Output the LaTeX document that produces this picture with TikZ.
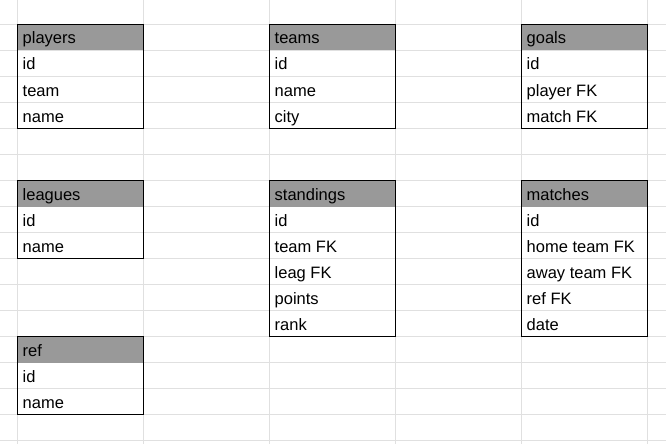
\documentclass[tikz,border=0pt]{standalone}
\usepackage{fontspec}
\setmainfont{Liberation Sans}
\begin{document}
\begin{tikzpicture}[x=1pt,y=-1pt,
  gridline/.style={draw=black!12,line width=1pt},
  tablebox/.style={draw=black,line width=1.2pt},
  headfill/.style={fill=black!40},
  celltext/.style={anchor=base west,inner sep=0pt,font=\fontsize{16.5}{18}\selectfont,text=black}]
\useasboundingbox (0,0) rectangle (666,444);
\fill[white] (0,0) rectangle (666,444);
% grid
\foreach \xx in {17.5,143.5,269.5,395.5,521.5,647.5} \draw[gridline] (\xx,0) -- (\xx,444);
\foreach \k in {0,...,16} \draw[gridline] (0,24.5+26*\k) -- (666,24.5+26*\k);
% tables
\foreach \name/\cx/\ry/\n/\rows in {
  players/17.5/24.5/4/{players,id,team,name},
  teams/269.5/24.5/4/{teams,id,name,city},
  goals/521.5/24.5/4/{goals,id,player FK,match FK},
  leagues/17.5/180.5/3/{leagues,id,name},
  standings/269.5/180.5/6/{standings,id,team FK,leag FK,points,rank},
  matches/521.5/180.5/6/{matches,id,home team FK,away team FK,ref FK,date},
  ref/17.5/336.5/3/{ref,id,name}}{
  \fill[headfill] (\cx,\ry) rectangle ++(126,26);
  \foreach \t [count=\i from 1] in \rows {
    \node[celltext] (\name-\i) at (\cx+5,\ry+26*\i-6.5) {\t};
  }
  \draw[tablebox] (\cx,\ry) rectangle ++(126,26*\n);
}
\end{tikzpicture}
\end{document}
